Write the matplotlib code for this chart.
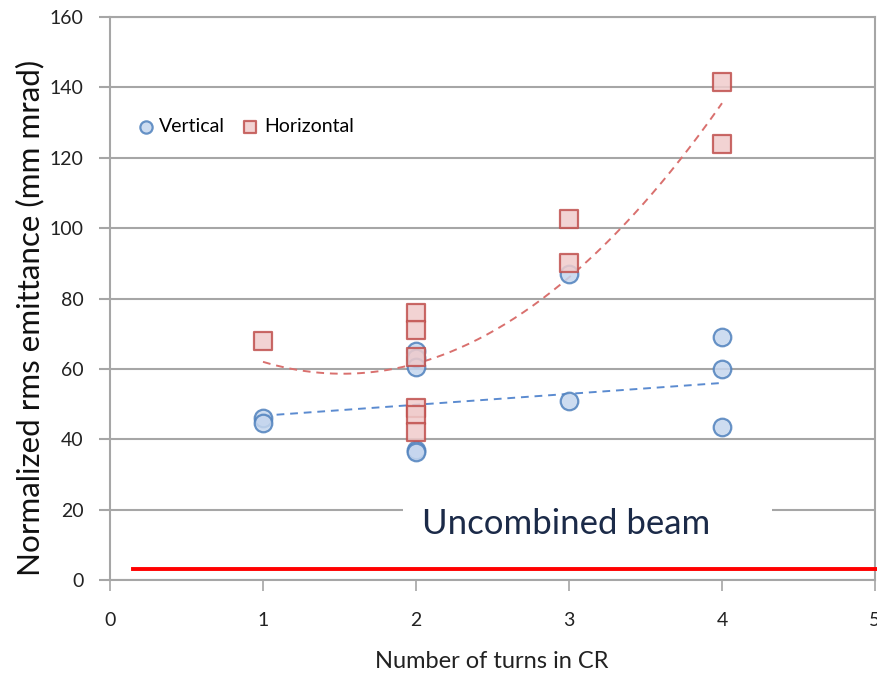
import numpy as np
import matplotlib
matplotlib.use("Agg")
import matplotlib.pyplot as plt
from matplotlib.patches import Rectangle

plt.rcParams['font.family'] = ['Lato', 'DejaVu Sans']

# Data
vert_x = [1, 1, 2, 2, 2, 2, 2, 3, 3, 4, 4, 4]
vert_y = [46, 44.5, 65, 63, 60.5, 37, 36.5, 87, 51, 69, 60, 43.5]
horiz_x = [1, 2, 2, 2, 2, 2, 2, 3, 3, 4, 4]
horiz_y = [68, 76, 71, 63.5, 49, 47, 42, 102.5, 90, 141.5, 124]

# Trend lines (coefficients, highest power first)
vert_trend = [3.1, 43.6]
horiz_trend = [12.5, -38.0, 87.5]
trend_range = [1, 4]

uncombined_level = 3.2
uncombined_range = [0.15, 5.02]

x_ticks = [0, 1, 2, 3, 4, 5]
y_ticks = [0, 20, 40, 60, 80, 100, 120, 140, 160]

fig = plt.figure(figsize=(8.78, 6.74), dpi=100)
ax = fig.add_axes([110/878, 94/674, 765/878, 563/674])

grid_c = '#a6a6a6'
ax.set_xlim(0, 5)
ax.set_ylim(0, 160)
ax.set_xticks(x_ticks)
ax.set_yticks(y_ticks)
ax.yaxis.grid(True, color=grid_c, lw=1.5, zorder=0)
ax.set_axisbelow(True)
for s in ['left', 'right', 'top', 'bottom']:
    ax.spines[s].set_color(grid_c)
    ax.spines[s].set_linewidth(1.5)
ax.tick_params(axis='x', direction='out', length=8, width=1.2, color=grid_c,
               labelsize=14, pad=15, labelcolor='#222222')
ax.tick_params(axis='y', direction='out', length=8, width=1.5, color=grid_c,
               labelsize=14, pad=11, labelcolor='#222222')

# trend lines
tx = np.linspace(trend_range[0], trend_range[1], 200)
ax.plot(tx, np.polyval(horiz_trend, tx), ls=(0, (4, 3)), color='#d9706e', lw=1.4, zorder=2)
ax.plot(tx, np.polyval(vert_trend, tx), ls=(0, (4, 3)), color='#5b8bd0', lw=1.4, zorder=2)

ax.scatter(vert_x, vert_y, s=160, marker='o', facecolor='#c5d6ee', edgecolor='#4f81bd',
           linewidth=1.6, alpha=0.85, zorder=3, label='Vertical')
ax.scatter(horiz_x, horiz_y, s=150, marker='s', facecolor='#f0cccc', edgecolor='#c0504d',
           linewidth=1.6, alpha=0.85, zorder=3, label='Horizontal')

leg = ax.legend(loc='center left', bbox_to_anchor=(0.035, 0.806), ncol=2, frameon=False,
                fontsize=14, handlelength=0.9, handletextpad=0.25, columnspacing=0.85,
                markerscale=0.7, borderaxespad=0, borderpad=0)

# white box behind the label
ax.add_patch(Rectangle((1.915, 14.5), 2.41, 6.2, facecolor='white', edgecolor='none',
                       zorder=1))

# uncombined beam line and label
ax.plot(uncombined_range, [uncombined_level] * 2, color='#ff0000', lw=2.8,
        clip_on=False, zorder=4)
ax.text(2.98, 15.8, 'Uncombined beam', fontsize=25, color='#1b2a48',
        ha='center', va='center', zorder=5)

fig.text(30/878, 1 - 318/674, 'Normalized rms emittance (mm mrad)', rotation=90,
         fontsize=22.6, ha='center', va='center', color='#111111')
fig.text(492/878, 1 - 662/674, 'Number of turns in CR', fontsize=17,
         ha='center', va='center', color='#222222')

fig.savefig('out.png', dpi=100)
